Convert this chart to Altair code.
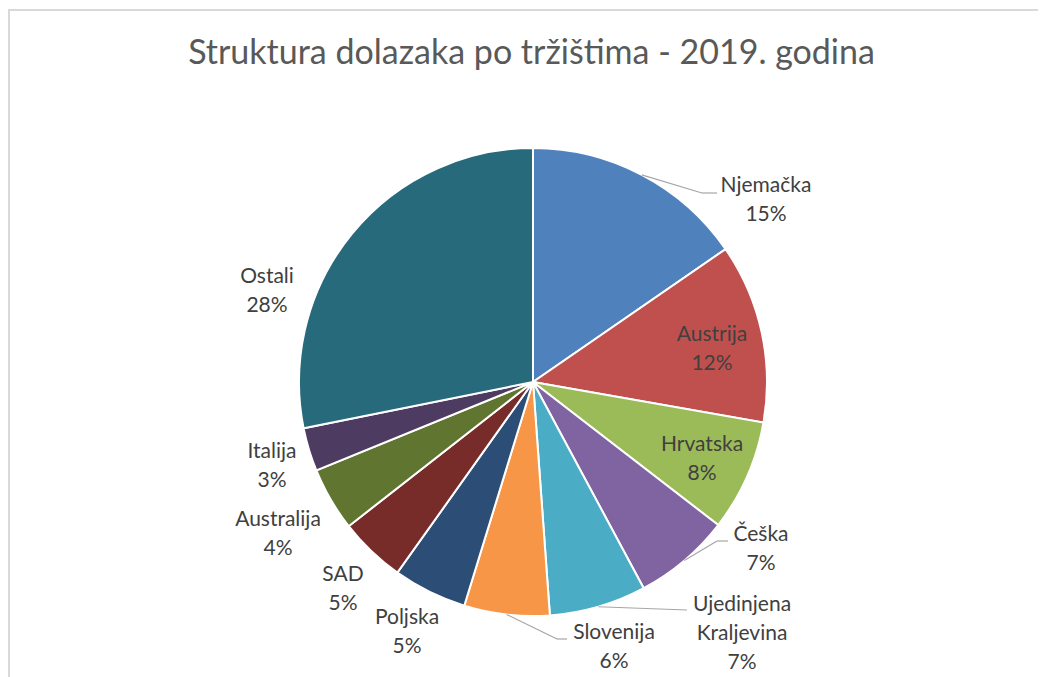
import altair as alt
import pandas as pd

# ---- data ----
countries = ["Njemačka", "Austrija", "Hrvatska", "Češka", "Ujedinjena Kraljevina",
             "Slovenija", "Poljska", "SAD", "Australija", "Italija", "Ostali"]
shares = [15.4, 12.4, 7.7, 6.7, 6.7, 5.9, 5.1, 4.6, 4.4, 3.0, 28.2]
pct_labels = ["15%", "12%", "8%", "7%", "7%", "6%", "5%", "5%", "4%", "3%", "28%"]
label_names = ["Njemačka", "Austrija", "Hrvatska", "Češka", "Ujedinjena\nKraljevina",
               "Slovenija", "Poljska", "SAD", "Australija", "Italija", "Ostali"]
colors = ["#4F81BD", "#C0504D", "#9BBB59", "#8064A2", "#4BACC6", "#F79646",
          "#2C4D75", "#772C2A", "#5F7530", "#4D3B62", "#276A7C"]

# ---- layout (page pixels of each label's first line, converted to view pixels below) ----
OX, OY = 8, 8
W, H = 1030, 669
CX, CY, R = 533 - OX, 382 - OY, 234
label_pos = [(766, 186), (712, 335), (702, 445), (761, 535), (742, 605),
             (614, 633), (407, 618), (343, 575), (278, 520), (272, 452), (267, 277)]
leader_names = ["Njemačka", "Češka", "Ujedinjena Kraljevina", "Slovenija"]
leader_elbow = [(702, 193), (717, 541), (687, 610), (557, 639)]
leader_end = [(717, 193), (728, 541), (687, 610), (567, 639)]

df = pd.DataFrame({"name": countries, "share": shares, "idx": list(range(len(countries)))})

lab_df = pd.DataFrame({
    "name": countries,
    "text": [f"{n}\n{p}" for n, p in zip(label_names, pct_labels)],
    "lx": [p[0] - OX for p in label_pos],
    "ly": [p[1] - OY for p in label_pos],
})

lead_df = pd.DataFrame({
    "name": leader_names,
    "ex": [p[0] - OX for p in leader_elbow],
    "ey": [p[1] - OY for p in leader_elbow],
    "tx": [p[0] - OX for p in leader_end],
    "ty": [p[1] - OY for p in leader_end],
})

FONT = "Lato"

pie = alt.Chart(df).mark_arc(outerRadius=R, stroke="white", strokeWidth=2).encode(
    theta=alt.Theta("share:Q", stack=True),
    color=alt.Color("name:N", scale=alt.Scale(domain=countries, range=colors), legend=None),
    order=alt.Order("idx:Q"),
    x=alt.value(CX),
    y=alt.value(CY),
)

lead_base = alt.Chart(df).transform_joinaggregate(
    total="sum(share)"
).transform_window(
    cum="sum(share)", sort=[alt.SortField("idx")], frame=[None, 0]
).transform_calculate(
    mid="(datum.cum - datum.share/2) / datum.total * 2 * PI"
).transform_lookup(
    lookup="name", from_=alt.LookupData(lead_df, "name", ["ex", "ey", "tx", "ty"])
).transform_filter(
    "isValid(datum.ex)"
).transform_calculate(
    sx=f"{CX} + {R} * sin(datum.mid)",
    sy=f"{CY} - {R} * cos(datum.mid)",
)

lead1 = lead_base.mark_rule(color="#a6a6a6", strokeWidth=1.2).encode(
    x=alt.X("sx:Q", scale=None), y=alt.Y("sy:Q", scale=None),
    x2="ex:Q", y2="ey:Q",
)
lead2 = lead_base.mark_rule(color="#a6a6a6", strokeWidth=1.2).encode(
    x=alt.X("ex:Q", scale=None), y=alt.Y("ey:Q", scale=None),
    x2="tx:Q", y2="ty:Q",
)

labels = alt.Chart(lab_df).mark_text(
    font=FONT, fontSize=21, color="#404040", lineBreak="\n", lineHeight=29,
    align="center", baseline="middle",
).encode(
    x=alt.X("lx:Q", scale=None), y=alt.Y("ly:Q", scale=None), text="text:N",
)

one = pd.DataFrame({"a": [0]})
title = alt.Chart(one).mark_text(
    font=FONT, fontSize=34, color="#595959", align="center", baseline="alphabetic",
    text="Struktura dolazaka po tržištima - 2019. godina",
).encode(x=alt.value(531.5 - OX), y=alt.value(64 - OY))

frame_top = alt.Chart(one).mark_rule(color="#d9d9d9", strokeWidth=2).encode(
    x=alt.value(0), x2=alt.value(W), y=alt.value(10 - OY)
)
frame_left = alt.Chart(one).mark_rule(color="#d9d9d9", strokeWidth=2).encode(
    x=alt.value(1), y=alt.value(10 - OY), y2=alt.value(H)
)

chart = alt.layer(frame_top, frame_left, pie, lead1, lead2, labels, title).properties(
    width=W, height=H, padding=0, autosize=alt.AutoSizeParams(type="none"),
    background="white",
).resolve_scale(x="independent", y="independent").configure_view(stroke=None)

chart.save("out.html", embed_options={"renderer": "svg", "actions": False})
